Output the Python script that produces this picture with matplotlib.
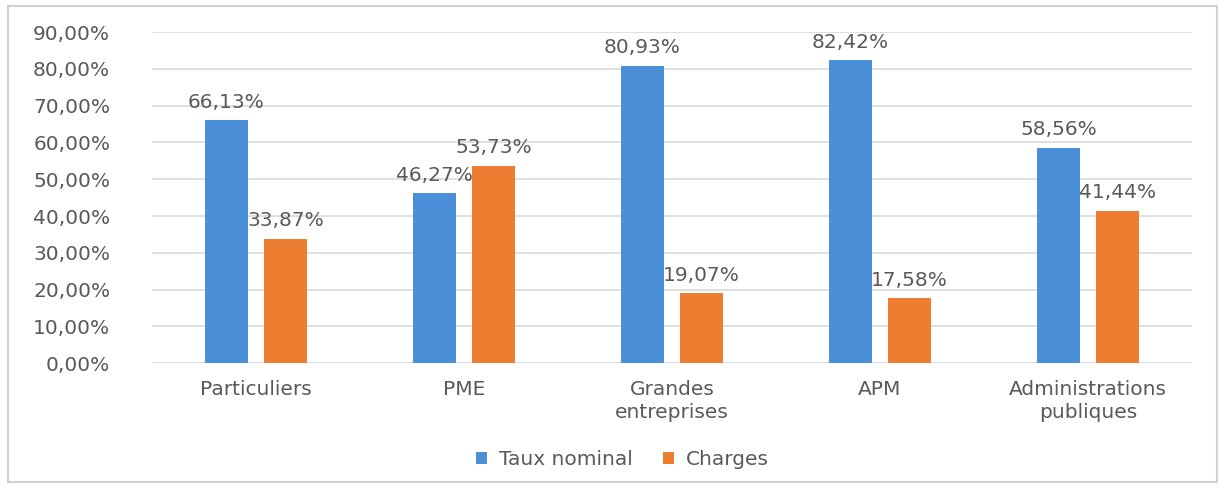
import matplotlib.pyplot as plt
import matplotlib.patches as mpatches
import numpy as np

# Donnees
categories = ['Particuliers', 'PME', 'Grandes\nentreprises', 'APM', 'Administrations\npubliques']
taux_nominal = [66.13, 46.27, 80.93, 82.42, 58.56]
charges = [33.87, 53.73, 19.07, 17.58, 41.44]
series_names = ['Taux nominal', 'Charges']

c_blue = '#4A8FD8'
c_orange = '#ED7D31'
c_text = '#595959'
fs = 14.5

plt.rcParams['font.family'] = ['DejaVu Sans']

fig = plt.figure(figsize=(12.25, 4.88), dpi=100)
ax = fig.add_axes([0.124, 0.256, 0.849, 0.678])

x = np.arange(len(categories))
w = 0.21
off = 0.142
b1 = ax.bar(x - off, taux_nominal, w, color=c_blue, label=series_names[0], zorder=3)
b2 = ax.bar(x + off, charges, w, color=c_orange, label=series_names[1], zorder=3)

# etiquettes des valeurs
for bars, vals in ((b1, taux_nominal), (b2, charges)):
    for r, v in zip(bars, vals):
        ax.annotate(('%.2f%%' % v).replace('.', ','),
                    (r.get_x() + r.get_width() / 2, v),
                    xytext=(0, 6), textcoords='offset points',
                    ha='center', va='bottom', fontsize=fs, color=c_text, zorder=4)

ax.set_xlim(-0.5, len(categories) - 0.5)
ax.set_ylim(0, 90)
yt = np.arange(0, 91, 10)
ax.set_yticks(yt)
ax.set_yticklabels([('%.2f%%' % t).replace('.', ',') for t in yt], fontsize=fs, color=c_text)
ax.set_xticks(x)
ax.set_xticklabels(categories, fontsize=fs, color=c_text, linespacing=1.3)
ax.tick_params(length=0)
ax.tick_params(axis='y', pad=30)
ax.tick_params(axis='x', pad=12)
ax.yaxis.grid(True, color='#D9D9D9', linewidth=1.2, zorder=0)
for s in ax.spines.values():
    s.set_visible(False)

leg = fig.legend(loc='center', bbox_to_anchor=(0.508, 0.058), ncol=2, frameon=False,
                 fontsize=fs, handlelength=0.55, handleheight=0.55, handletextpad=0.6,
                 columnspacing=1.5)
for t in leg.get_texts():
    t.set_color(c_text)

# cadre
fig.patches.append(mpatches.Rectangle((8 / 1225, 6 / 488), 1209 / 1225, 476 / 488,
                                      transform=fig.transFigure, fill=False,
                                      edgecolor='#D0D0D0', linewidth=1.5))

fig.savefig('out.png', dpi=100)
